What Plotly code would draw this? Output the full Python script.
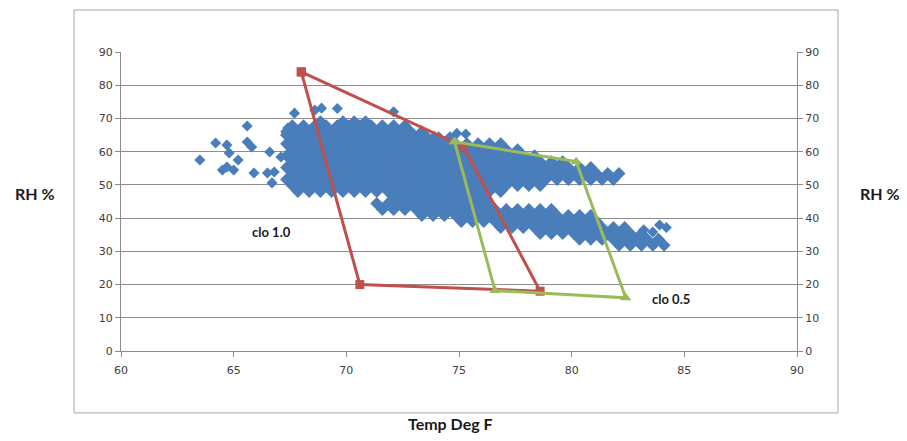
import plotly.graph_objects as go

# ---- data ----
# dense RH/temperature cloud, stored row by row (RH level -> temperatures)
cloud_rh = [69.0, 67.8, 66.0, 64.2, 62.4, 60.6, 58.8, 57.0, 55.2, 53.4, 51.6, 49.8, 48.0,
            46.2, 44.4, 42.6, 40.8, 39.0, 37.2, 35.4, 33.6, 31.8]
cloud_temp = [
    [68.85, 69.85, 70.35, 70.85],
    [67.6, 68.1, 68.6, 69.1, 69.6, 70.1, 70.6, 71.1, 71.6, 72.1, 72.6],
    [67.35, 67.85, 68.35, 68.85, 69.35, 69.85, 70.35, 70.85, 71.35, 71.85, 72.35, 72.85, 73.35],
    [67.6, 68.1, 68.6, 69.1, 69.6, 70.1, 70.6, 71.1, 71.6, 72.1, 72.6, 73.1, 73.6, 74.1,
     74.6],
    [67.35, 67.85, 68.35, 68.85, 69.35, 69.85, 70.35, 70.85, 71.35, 71.85, 72.35, 72.85, 73.35,
     73.85, 74.35, 74.85, 75.35, 75.85, 76.35, 76.85],
    [67.6, 68.1, 68.6, 69.1, 69.6, 70.1, 70.6, 71.1, 71.6, 72.1, 72.6, 73.1, 73.6, 74.1,
     74.6, 75.1, 75.6, 76.1, 76.6, 77.1, 77.6],
    [67.35, 67.85, 68.35, 68.85, 69.35, 69.85, 70.35, 70.85, 71.35, 71.85, 72.35, 72.85, 73.35,
     73.85, 74.35, 74.85, 75.35, 75.85, 76.35, 76.85, 77.35, 77.85, 78.35],
    [67.6, 68.1, 68.6, 69.1, 69.6, 70.1, 70.6, 71.1, 71.6, 72.1, 72.6, 73.1, 73.6, 74.1,
     74.6, 75.1, 75.6, 76.1, 76.6, 77.1, 77.6, 78.1, 78.6, 79.1, 79.6],
    [67.35, 67.85, 68.35, 68.85, 69.35, 69.85, 70.35, 70.85, 71.35, 71.85, 72.35, 72.85, 73.35,
     73.85, 74.35, 74.85, 75.35, 75.85, 76.35, 76.85, 77.35, 77.85, 78.35, 78.85, 79.35, 79.85,
     80.35, 80.85],
    [67.6, 68.1, 68.6, 69.1, 69.6, 70.1, 70.6, 71.1, 71.6, 72.1, 72.6, 73.1, 73.6, 74.1,
     74.6, 75.1, 75.6, 76.1, 76.6, 77.1, 77.6, 78.1, 78.6, 79.1, 79.6, 80.1, 80.6, 81.1, 81.6,
     82.1],
    [67.35, 67.85, 68.35, 68.85, 69.35, 69.85, 70.35, 70.85, 71.35, 71.85, 72.35, 72.85, 73.35,
     73.85, 74.35, 74.85, 75.35, 75.85, 76.35, 76.85, 77.35, 77.85, 78.35, 78.85, 79.35, 79.85,
     80.35, 80.85, 81.35, 81.85],
    [67.6, 68.1, 68.6, 69.1, 69.6, 70.1, 70.6, 71.1, 71.6, 72.1, 72.6, 73.1, 73.6, 74.1, 74.6,
     75.1, 75.6, 76.1, 76.6, 77.1, 77.6, 78.1, 78.6],
    [67.85, 68.35, 68.85, 69.35, 69.85, 70.35, 70.85, 71.35, 71.85, 72.35, 72.85, 73.35, 73.85,
     74.35, 74.85, 75.35, 75.85, 76.35, 76.85],
    [72.1, 72.6, 73.1, 73.6, 74.1, 74.6, 75.1, 75.6, 76.1],
    [71.35, 71.85, 72.35, 72.85, 73.35, 73.85, 74.35, 74.85, 75.35, 75.85, 76.35],
    [71.6, 72.1, 72.6, 73.1, 73.6, 74.1, 74.6, 75.1, 75.6, 76.1, 76.6, 77.1, 77.6, 78.1, 78.6,
     79.1],
    [73.35, 73.85, 74.35, 74.85, 75.35, 75.85, 76.35, 76.85, 77.35, 77.85, 78.35, 78.85, 79.35,
     79.85, 80.35, 80.85],
    [75.1, 75.6, 76.1, 76.6, 77.1, 77.6, 78.1, 78.6, 79.1, 79.6, 80.1, 80.6, 81.1],
    [76.85, 77.35, 77.85, 78.35, 78.85, 79.35, 79.85, 80.35, 80.85, 81.35, 81.85, 82.35],
    [78.6, 79.1, 79.6, 80.1, 80.6, 81.1, 81.6, 82.1, 82.6, 83.1],
    [80.35, 80.85, 81.35, 81.85, 82.35, 82.85, 83.35, 83.85],
    [82.1, 82.6, 83.1, 83.6, 84.1],
]

# scattered individual readings
extra_temp = [63.5, 64.2, 64.7, 64.8, 65.2, 64.5, 64.7, 65.0, 65.6, 65.6, 65.8, 65.9, 66.6,
              66.7, 66.5, 66.8, 67.1, 67.7, 68.6, 68.9, 69.6, 72.1, 74.9, 75.3, 76.9, 73.9,
              83.2, 83.9, 84.2, 83.6, 67.4, 67.3]
extra_rh = [57.5, 62.6, 62.0, 59.6, 57.5, 54.5, 55.4, 54.5, 67.7, 62.9, 61.4, 53.6, 59.9,
            50.6, 53.6, 53.9, 58.4, 71.6, 72.5, 73.1, 73.0, 72.0, 65.5, 65.3, 62.0, 64.6,
            36.5, 37.9, 37.2, 35.8, 67.1, 65.0]

# comfort zone outlines
clo10_temp = [68.0, 70.6, 78.6, 75.2, 68.0]
clo10_rh = [84.0, 20.0, 18.0, 61.5, 84.0]
clo05_temp = [74.8, 80.2, 82.4, 76.6, 74.8]
clo05_rh = [63.0, 57.0, 16.0, 18.2, 63.0]

x_ticks = [60, 65, 70, 75, 80, 85, 90]
y_ticks = [0, 10, 20, 30, 40, 50, 60, 70, 80, 90]

# ---- build flat point lists ----
cloud_x, cloud_y = [], []
for rh, temps in zip(cloud_rh, cloud_temp):
    for t in temps:
        cloud_x.append(t)
        cloud_y.append(rh)

BLUE = "#4A7EBB"
fig = go.Figure()
fig.add_trace(go.Scatter(
    x=cloud_x, y=cloud_y, mode="markers",
    marker=dict(symbol="diamond", size=10, color=BLUE, line=dict(width=0)),
    showlegend=False, hoverinfo="skip"))
fig.add_trace(go.Scatter(
    x=extra_temp, y=extra_rh, mode="markers",
    marker=dict(symbol="diamond", size=8.5, color=BLUE, line=dict(width=0)),
    showlegend=False, hoverinfo="skip"))
fig.add_trace(go.Scatter(
    x=clo10_temp, y=clo10_rh, mode="lines+markers",
    line=dict(color="#C0504D", width=3),
    marker=dict(symbol="square", size=9, color="#C0504D"),
    showlegend=False))
fig.add_trace(go.Scatter(
    x=clo05_temp, y=clo05_rh, mode="lines+markers", yaxis="y2",
    line=dict(color="#9BBB59", width=3),
    marker=dict(symbol="triangle-up", size=10, color="#9BBB59"),
    showlegend=False))

tick_font = dict(family="DejaVu Sans", size=11, color="#404040")
title_font = dict(family="Lato", size=16, color="#1a1a1a", weight="bold")

fig.update_layout(
    width=899, height=433,
    margin=dict(l=113, r=110, t=44, b=90),
    paper_bgcolor="white", plot_bgcolor="white",
    xaxis=dict(range=[60, 90], tickvals=x_ticks, showgrid=False, zeroline=False,
               showline=True, linecolor="#8C8C8C", linewidth=1,
               ticks="outside", ticklen=5, tickcolor="#8C8C8C",
               tickfont=tick_font, ticklabelstandoff=4, mirror=False),
    yaxis=dict(range=[0, 90], tickvals=y_ticks, showgrid=True, gridcolor="#8C8C8C",
               gridwidth=1, zeroline=False, showline=True, linecolor="#8C8C8C",
               ticks="outside", ticklen=5, tickcolor="#8C8C8C", tickfont=tick_font),
    yaxis2=dict(range=[0, 90], tickvals=y_ticks, overlaying="y", side="right",
                showgrid=False, zeroline=False, showline=True, linecolor="#8C8C8C",
                ticks="outside", ticklen=5, tickcolor="#8C8C8C", tickfont=tick_font),
    shapes=[dict(type="rect", xref="paper", yref="paper",
                 x0=-0.0695, x1=1.0607, y0=-0.207, y1=1.1405,
                 line=dict(color="#A6A6A6", width=1), layer="below")],
    annotations=[
        dict(text="RH %", xref="paper", yref="paper", x=-0.127, y=0.528,
             xanchor="center", yanchor="middle", showarrow=False, font=title_font),
        dict(text="RH %", xref="paper", yref="paper", x=1.1228, y=0.528,
             xanchor="center", yanchor="middle", showarrow=False, font=title_font),
        dict(text="Temp Deg F", xref="paper", yref="paper", x=0.4867, y=-0.241,
             xanchor="center", yanchor="middle", showarrow=False,
             font=dict(family="Lato", size=16, color="#1a1a1a", weight="bold")),
        dict(text="clo 1.0", x=66.7, y=35.8, xref="x", yref="y", showarrow=False,
             xanchor="center", yanchor="middle",
             font=dict(family="Lato", size=13, color="#1a1a1a", weight="bold")),
        dict(text="clo 0.5", x=84.4, y=15.7, xref="x", yref="y", showarrow=False,
             xanchor="center", yanchor="middle",
             font=dict(family="Lato", size=13, color="#1a1a1a", weight="bold")),
    ],
)

fig.write_html("out.html")
